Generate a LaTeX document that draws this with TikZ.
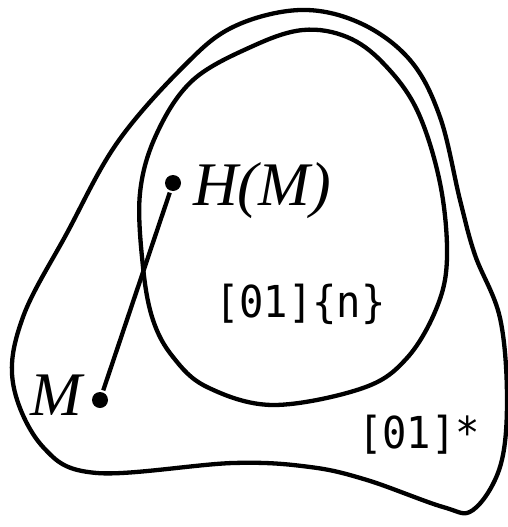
\documentclass[tikz,border=0pt]{standalone}
\usepackage{fontspec}
\setmainfont{Liberation Serif}
\newfontfamily\monofont[FakeStretch=0.92]{DejaVu Sans Mono}
\begin{document}
\begin{tikzpicture}[x=1pt, y=-1pt, line width=4.3pt,
    dot/.style={circle,fill,inner sep=0pt,minimum size=16pt},
    lbl/.style={inner sep=0pt,font=\fontsize{62}{62}\selectfont\itshape},
    settext/.style={inner sep=0pt,font=\fontsize{44}{44}\selectfont\monofont}]
    \useasboundingbox (0,0) rectangle (508,527);
    % aussere Menge
    \draw plot[smooth cycle, tension=0.6] coordinates {
        (300,10) (360,23) (410,60) (440,117) (460,200) (475,255)
        (500,318) (507,400) (500,467) (473,510) (443,507) (367,480)
        (310,467) (233,463) (97,473) (43,447) (13,383) (23,317)
        (67,233) (117,143) (183,67) (233,27)};
    % innere Menge
    \draw plot[smooth cycle, tension=0.6] coordinates {
        (303,30) (253,46) (193,80) (157,133) (140,193) (143,267)
        (153,320) (173,357) (207,387) (273,405) (363,388) (407,358)
        (437,307) (447,257) (440,183) (417,110) (383,63) (347,37)};
    % Punkte und Abbildung
    \node[dot] (M) at (100,400) {};
    \node[dot] (HM) at (173,183) {};
    \draw (M) -- (HM);
    \node[lbl,anchor=base west] (HMlbl) at (191,205) {H(M)};
    \node[lbl,anchor=base east] (Mlbl) at (84,415) {M};
    \node[settext,anchor=base west] (inner) at (213,317) {[01]\{n\}};
    \node[settext,anchor=base west] (outer) at (356,448) {[01]*};
\end{tikzpicture}
\end{document}
